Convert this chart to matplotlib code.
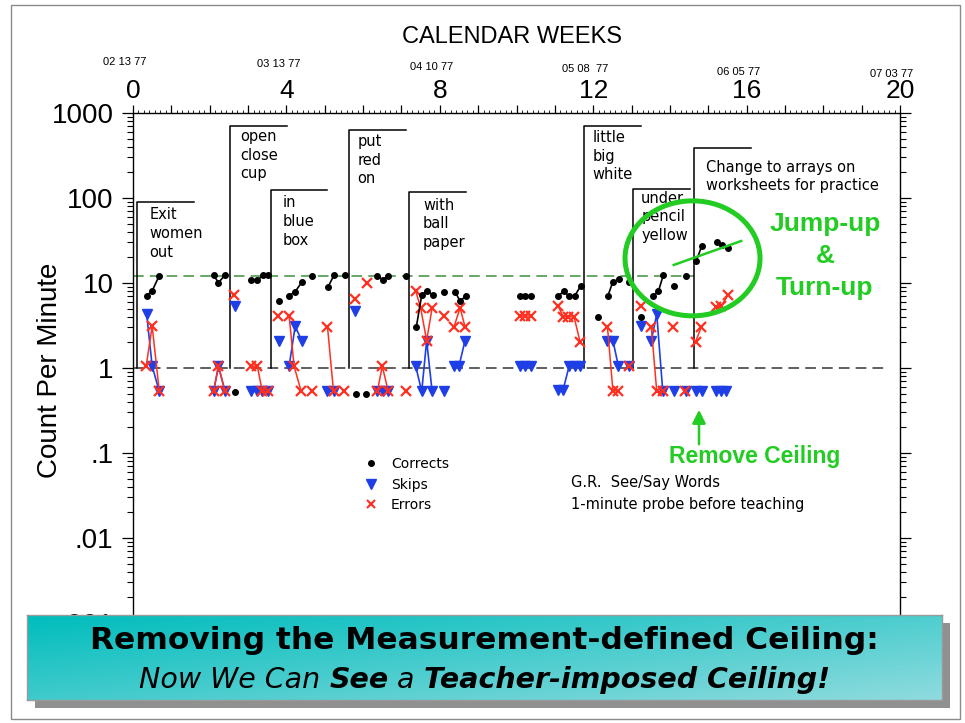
import numpy as np
import matplotlib
matplotlib.use('Agg')
import matplotlib.pyplot as plt
from matplotlib.patches import Ellipse, Rectangle
from matplotlib.lines import Line2D
from matplotlib.ticker import FixedLocator, FixedFormatter, LogLocator, NullFormatter

plt.rcParams['font.family'] = ['Liberation Sans', 'DejaVu Sans']

nan = np.nan

# x = days since 02 13 77 (week 0), y = count per minute, nan breaks a line
corr_day = [2.5, 3.5, 4.8, nan, 14.7, 15.6, 16.8, nan, 18.7, nan,
            21.5, 22.7, 23.8, 24.7, nan, 26.6, nan, 28.5, 29.6, 30.8, nan, 32.7, nan,
            35.6, 36.7, nan, 38.7, nan, 40.7, nan, 42.6, nan, 44.6, 45.6, 46.6, nan, 49.8, nan,
            51.7, 52.7, 53.7, 54.7, nan, 56.8, nan, 58.8, 59.7, 60.7, nan,
            70.6, 71.6, 72.6, nan, 77.6, 78.6, 79.6, 80.6, 81.7, nan, 84.8, nan,
            86.7, 87.6, 88.7, nan, 90.5, nan, 92.8, nan, 94.9, 95.9, 96.8, nan, 98.7, nan, 100.9, nan,
            102.8, 103.8, nan, 106.6, 107.6, 108.6]
corr_val = [7.1, 8.1, 12.2, nan, 12.4, 10.1, 12.4, nan, 0.52, nan,
            10.8, 10.8, 12.4, 12.4, nan, 6.2, nan, 7.1, 7.9, 10.2, nan, 12.2, nan,
            9.0, 12.4, nan, 12.4, nan, 0.5, nan, 0.5, nan, 12.2, 10.9, 12.2, nan, 12.2, nan,
            3.0, 7.2, 8.1, 7.2, nan, 7.9, nan, 7.9, 6.1, 7.0, nan,
            7.1, 7.1, 7.1, nan, 7.0, 8.0, 7.0, 7.0, 9.2, nan, 4.0, nan,
            7.1, 10.4, 11.0, nan, 10.4, nan, 4.0, nan, 7.0, 8.0, 12.4, nan, 9.2, nan, 12.1, nan,
            18.0, 27.2, nan, 30.6, 28.3, 25.8]

skip_day = [2.5, 3.5, 4.8, nan, 14.7, 15.6, 16.8, nan, 18.6, nan,
            21.5, 22.7, 23.6, 24.7, nan, 26.6, nan, 28.5, 29.6, 30.8, nan,
            35.5, 36.6, nan, 40.5, nan, 44.6, 45.6, 46.6, nan,
            51.6, 52.7, 53.6, 54.6, nan, 56.8, nan, 58.6, 59.5, 60.6, nan,
            70.6, 71.6, 72.6, nan, 77.6, 78.5, 79.6, 80.6, 81.6, nan,
            86.6, 87.6, 88.6, nan, 90.5, nan, 92.8, nan, 94.6, 95.6, 96.7, nan,
            98.7, nan, 100.9, nan, 102.8, 103.8, nan, 106.5, 107.4, 108.3]
skip_val = [4.3, 1.05, 0.53, nan, 0.53, 1.05, 0.53, nan, 5.4, nan,
            0.53, 0.53, 0.53, 0.53, nan, 2.1, nan, 1.05, 3.1, 2.1, nan,
            0.53, 0.53, nan, 4.7, nan, 0.53, 0.53, 0.53, nan,
            1.05, 0.53, 2.1, 0.53, nan, 0.53, nan, 1.05, 1.05, 2.1, nan,
            1.05, 1.05, 1.05, nan, 0.55, 0.55, 1.05, 1.05, 1.05, nan,
            2.1, 2.1, 1.05, nan, 1.05, nan, 3.1, nan, 2.1, 4.3, 0.53, nan,
            0.53, nan, 0.53, nan, 0.53, 0.53, nan, 0.53, 0.53, 0.53]

err_day = [2.4, 3.5, 4.8, nan, 14.7, 15.6, 16.8, nan, 18.5, nan,
           21.5, 22.7, 23.6, 24.7, nan, 26.5, nan, 28.5, 29.4, 30.7, nan, 32.6, nan,
           35.5, 36.6, nan, 38.5, nan, 40.5, nan, 42.8, nan, 44.6, 45.5, 46.6, nan, 49.8, nan,
           51.6, 52.5, 53.6, 54.6, nan, 56.8, nan, 58.6, 59.7, 60.6, nan,
           70.6, 71.6, 72.6, nan, 77.6, 78.5, 79.4, 80.5, 81.6, nan,
           86.6, 87.6, 88.6, nan, 90.5, nan, 92.7, nan, 94.6, 95.6, 96.7, nan,
           98.6, nan, 100.7, nan, 102.7, 103.7, nan, 106.5, 107.4, 108.6]
err_val = [1.05, 3.1, 0.53, nan, 0.53, 1.05, 0.53, nan, 7.2, nan,
           1.05, 1.05, 0.53, 0.53, nan, 4.1, nan, 4.1, 1.05, 0.53, nan, 0.53, nan,
           3.06, 0.53, nan, 0.53, nan, 6.5, nan, 10.0, nan, 0.53, 1.05, 0.53, nan, 0.53, nan,
           8.1, 5.1, 2.1, 5.1, nan, 4.1, nan, 3.06, 5.1, 3.06, nan,
           4.1, 4.1, 4.1, nan, 5.4, 4.0, 4.0, 4.0, 2.04, nan,
           3.06, 0.54, 0.54, nan, 1.05, nan, 5.3, nan, 3.06, 0.53, 0.53, nan,
           3.06, nan, 0.53, nan, 2.04, 3.0, nan, 5.2, 5.4, 7.2]

# phase change lines
phase_day = [0.8, 17.7, 25.1, 39.5, 50.4, 82.4, 91.3, 102.4]
phase_top = [89, 700, 123, 630, 119, 705, 128, 390]
phase_text = ['Exit\nwomen\nout', 'open\nclose\ncup', 'in\nblue\nbox', 'put\nred\non',
              'with\nball\npaper', 'little\nbig\nwhite', 'under\npencil\nyellow',
              'Change to arrays on\nworksheets for practice']
phase_dx = [12, 10, 12, 8, 14, 8, 8, 12]      # px right of the line
phase_dy = [14, 12, 14, 13, 15, 13, 11, 21]   # px below the top to 1st line centre
phase_len = 10.4

ceiling = 12
ceiling_end = 102.4
floor_line = 1

trend_day = [98.7, 111.0]
trend_val = [16.3, 31.2]

week_labels = [0, 4, 8, 12, 16, 20]
date_labels = ['02 13 77', '03 13 77', '04 10 77', '05 08  77', '06 05 77', '07 03 77']
y_ticks = [1000, 100, 10, 1, 0.1, 0.01, 0.001]
y_labels = ['1000', '100', '10', '1', '.1', '.01', '.001']

W, H = 965, 723
def fx(x):
    return x / W
def fy(y):
    return 1 - y / H

black = '#000000'
blue = '#1f3fe6'
red = '#ff3020'
green = '#22cc22'
dkgreen = '#3d8f3d'
sans = ['DejaVu Sans']

fig = plt.figure(figsize=(9.65, 7.23), dpi=100)
fig.patch.set_facecolor('white')

ax = fig.add_axes([fx(133), fy(623), 767 / W, 510 / H])
ax.set_yscale('log')
ax.set_xlim(0, 140)
ax.set_ylim(0.001, 1000)

# x axis: weeks on top, day minor ticks
ax.xaxis.tick_top()
weeks = np.arange(0, 21)
ax.xaxis.set_major_locator(FixedLocator(weeks * 7))
ax.xaxis.set_major_formatter(FixedFormatter([str(w) if w in week_labels else '' for w in weeks]))
ax.xaxis.set_minor_locator(FixedLocator(np.arange(0, 141)))
ax.tick_params(axis='x', which='major', direction='out', length=6, width=0.9, labelsize=19, pad=1)
ax.tick_params(axis='x', which='minor', direction='out', length=2.5, width=0.6)

ax.yaxis.set_major_locator(FixedLocator(y_ticks))
ax.yaxis.set_major_formatter(FixedFormatter(y_labels))
ax.yaxis.set_minor_locator(LogLocator(base=10, subs=np.arange(2, 10)))
ax.yaxis.set_minor_formatter(NullFormatter())
ax.yaxis.set_ticks_position('both')
ax.tick_params(axis='y', which='major', direction='out', length=8, width=0.9, labelsize=20, pad=6)
ax.tick_params(axis='y', which='minor', direction='out', length=4, width=0.8)
for s in ax.spines.values():
    s.set_linewidth(1.0)

# ceiling / floor
ax.plot([0, ceiling_end], [ceiling, ceiling], color=dkgreen, lw=1.1, dashes=(7, 4), zorder=2)
ax.plot([0, 138], [floor_line, floor_line], color='#333333', lw=1.1, dashes=(7, 4), zorder=2)

# phase change lines and labels
for d, top, txt, dx, dy in zip(phase_day, phase_top, phase_text, phase_dx, phase_dy):
    ax.plot([d, d, d + phase_len], [floor_line, top, top], color='black', lw=1.1, zorder=2)
    ax.annotate(txt, xy=(d, top), xytext=(dx, -(dy - 9)), textcoords='offset pixels',
                ha='left', va='top', fontsize=10.5, family=sans, linespacing=1.3)

ax.plot(skip_day, skip_val, color=blue, lw=1.2, marker='v', ms=7, zorder=3)
ax.plot(err_day, err_val, color=red, lw=1.1, marker='x', ms=6.5, mew=1.6, zorder=3.5)
ax.plot(corr_day, corr_val, color=black, lw=1.2, marker='o', ms=4, zorder=4)

# jump-up annotation
ax.plot(trend_day, trend_val, color=green, lw=1.8, zorder=5)
ax.add_patch(Ellipse((0.7295, 0.715), 0.176, 0.2255, transform=ax.transAxes,
                     fill=False, ec=green, lw=3.6, zorder=5, clip_on=False))

handles = [Line2D([], [], ls='none', marker='o', color=black, ms=4),
           Line2D([], [], ls='none', marker='v', color=blue, ms=7),
           Line2D([], [], ls='none', marker='x', color=red, ms=6, mew=1.5)]
leg = ax.legend(handles, ['Corrects', 'Skips', 'Errors'], loc='upper left',
                bbox_to_anchor=(fx(364), fy(457)), bbox_transform=fig.transFigure,
                frameon=False, borderpad=0, borderaxespad=0, handlelength=1.0,
                handletextpad=0.95, labelspacing=0.48, prop={'family': sans, 'size': 10})

# top labels
fig.text(fx(512), fy(37), 'CALENDAR WEEKS', ha='center', va='center', fontsize=17)
for i, (w, lab) in enumerate(zip(week_labels, date_labels)):
    xp = 133 + w * 7 * 767 / 140 - 8
    fig.text(fx(xp), fy(62 + 2.4 * i), lab, ha='center', va='center', fontsize=8)
fig.text(fx(50), fy(370), 'Count Per Minute', rotation=90, ha='center', va='center', fontsize=20)

fig.text(fx(571), fy(483), 'G.R.  See/Say Words', ha='left', va='center', fontsize=10.5, family=sans)
fig.text(fx(571), fy(505), '1-minute probe before teaching', ha='left', va='center',
         fontsize=10.5, family=sans)

for txt, yp in zip(['Jump-up', '&', 'Turn-up'], [224, 256, 288]):
    fig.text(fx(825), fy(yp), txt, ha='center', va='center', fontsize=19,
             fontweight='bold', color=green)
fig.text(fx(755), fy(457), 'Remove Ceiling', ha='center', va='center', fontsize=16.5,
         fontweight='bold', color=green)
fig.add_artist(matplotlib.patches.FancyArrowPatch((fx(699), fy(447)), (fx(699), fy(407)),
               transform=fig.transFigure, arrowstyle='-|>', mutation_scale=20,
               color=green, lw=1.8))

# banner
fig.add_artist(Rectangle((fx(35), fy(708)), 915 / W, 85 / H, transform=fig.transFigure,
                         facecolor='#909090', edgecolor='none', zorder=4))
bax = fig.add_axes([fx(27), fy(700), 915 / W, 85 / H], zorder=5)
gx, gy = np.meshgrid(np.linspace(0, 1, 200), np.linspace(0, 1, 50))
t = np.clip(0.55 * gx + 0.45 * gy, 0, 1)[..., None]
c0 = np.array([0.0, 0.74, 0.74])
c1 = np.array([0.56, 0.86, 0.87])
bax.imshow(c0 + (c1 - c0) * t, aspect='auto', extent=[0, 1, 0, 1], origin='upper')
bax.set_xlim(0, 1)
bax.set_ylim(0, 1)
bax.set_xticks([])
bax.set_yticks([])
for s in bax.spines.values():
    s.set_color('#9a9a9a')
    s.set_linewidth(1)
bax.text(0.5, 0.70, 'Removing the Measurement-defined Ceiling:', ha='center', va='center',
         fontsize=22.5, fontweight='bold', family=sans, transform=bax.transAxes)

parts = [('Now We Can ', 'normal'), ('See', 'bold'), (' a ', 'normal'),
         ('Teacher-imposed Ceiling!', 'bold')]
objs = [bax.text(0, 0.23, p, ha='left', va='center', fontsize=20.5, style='italic',
                 fontweight=wt, family=sans, transform=bax.transAxes) for p, wt in parts]
fig.canvas.draw()
r = fig.canvas.get_renderer()
widths = [o.get_window_extent(r).width for o in objs]
bw = bax.get_window_extent(r).width
x0 = 0.5 - sum(widths) / bw / 2
for o, wd in zip(objs, widths):
    o.set_x(x0)
    x0 += wd / bw

# slide border
fig.add_artist(Rectangle((fx(11), fy(719)), 949 / W, 714 / H, transform=fig.transFigure,
                         fill=False, edgecolor='#8a8a8a', lw=1, zorder=0))

fig.savefig('out.png', dpi=100)
